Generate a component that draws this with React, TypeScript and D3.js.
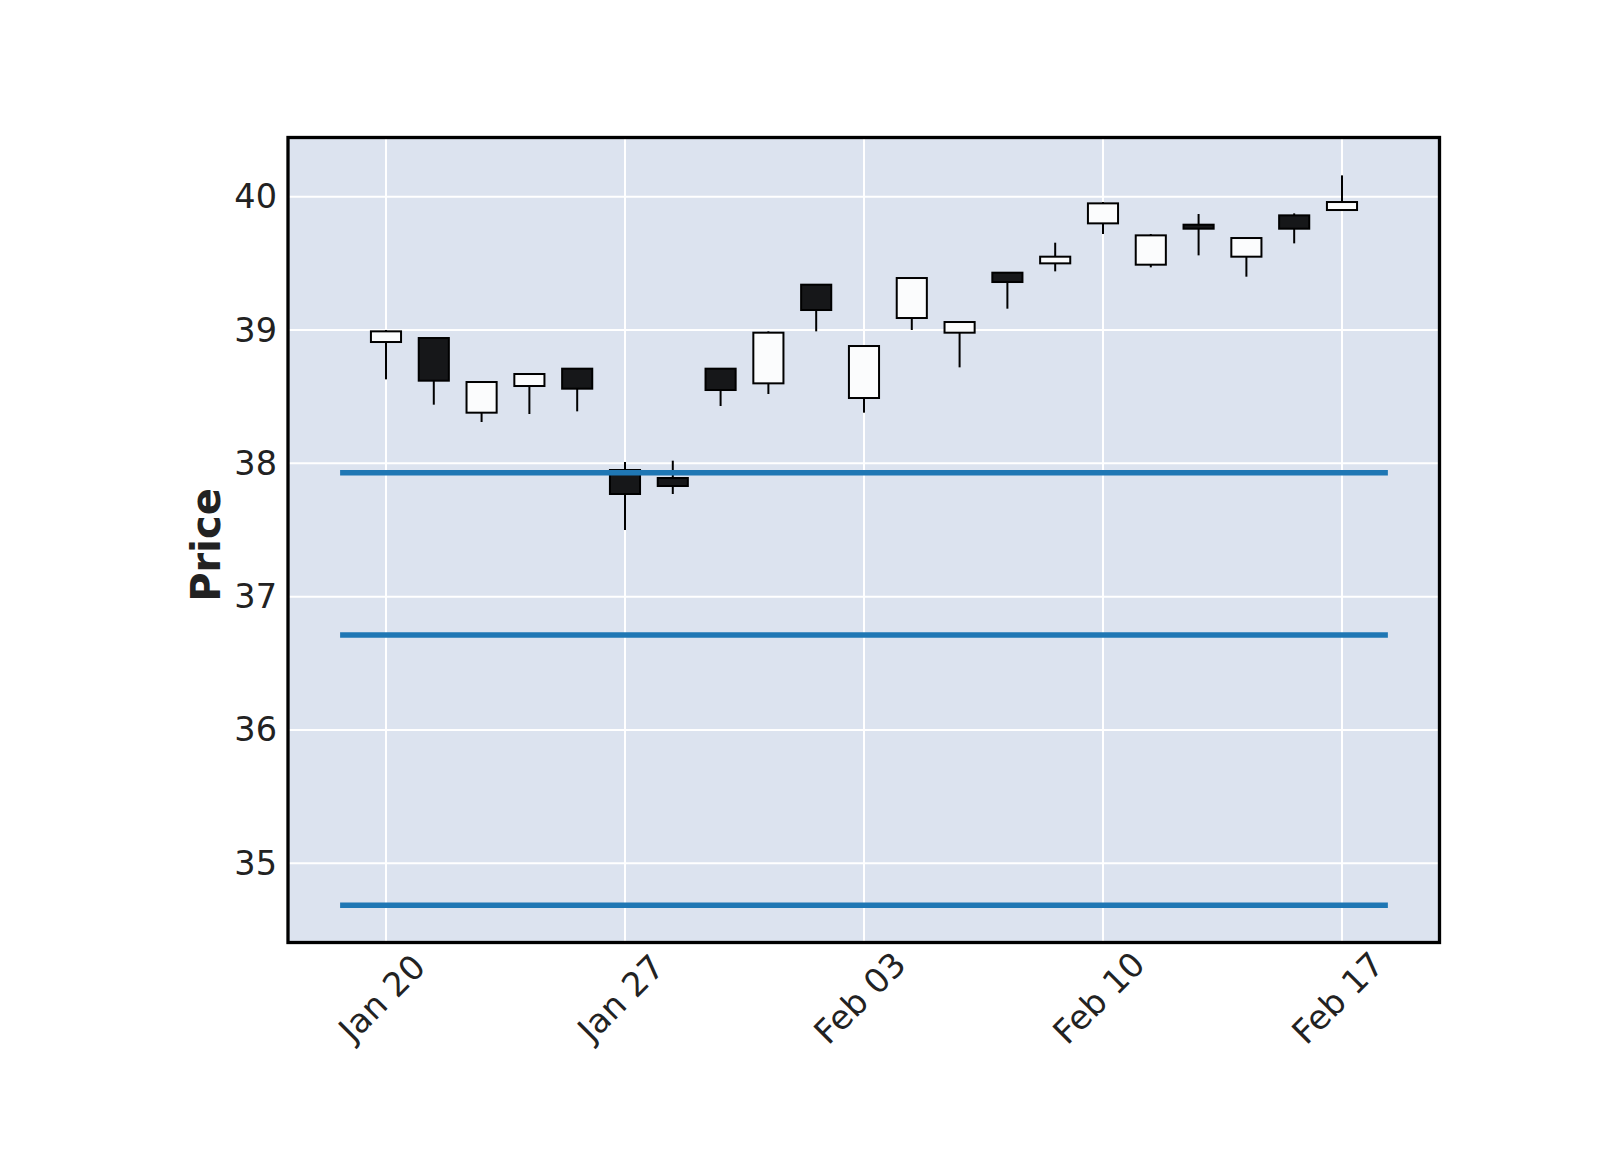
import React from "react";
import * as d3 from "d3";

const dates = ["Jan 20","Jan 21","Jan 22","Jan 23","Jan 24","Jan 27","Jan 28","Jan 29","Jan 30","Jan 31","Feb 03","Feb 04","Feb 05","Feb 06","Feb 07","Feb 10","Feb 11","Feb 12","Feb 13","Feb 14","Feb 17"];
const opens = [38.91,38.94,38.38,38.58,38.71,37.95,37.89,38.71,38.60,39.34,38.49,39.09,38.98,39.43,39.50,39.80,39.49,39.79,39.55,39.86,39.90];
const highs = [39.0,38.94,38.61,38.67,38.71,38.01,38.02,38.71,38.99,39.34,38.88,39.39,39.06,39.43,39.655,39.96,39.72,39.87,39.69,39.875,40.16];
const lows = [38.63,38.44,38.31,38.37,38.39,37.50,37.77,38.43,38.52,38.99,38.38,39.00,38.72,39.16,39.44,39.72,39.47,39.56,39.40,39.65,39.90];
const closes = [38.99,38.62,38.61,38.67,38.56,37.77,37.83,38.55,38.98,39.15,38.88,39.39,39.06,39.36,39.55,39.95,39.71,39.76,39.69,39.76,39.96];
const hlineValues = [37.93, 36.712, 34.685];
const yTicks = [35, 36, 37, 38, 39, 40];
const xTickIdx = [0, 5, 10, 15, 20];
const xTickLabels = ["Jan 20", "Jan 27", "Feb 03", "Feb 10", "Feb 17"];

const L = 288, R = 1439.5, T = 137.5, B = 942.5;

export default function App() {
  const x = d3.scaleLinear().domain([-2.05, 22.04]).range([L, R]);
  const y = d3.scaleLinear().domain([34.406, 40.444]).range([B, T]);
  const bw = x(0.63) - x(0);
  const font = "DejaVu Sans, sans-serif";
  return (
    <svg width={1600} height={1150} style={{ position: "absolute", left: 0, top: 0, background: "#fff" }}>
      <rect x={L} y={T} width={R - L} height={B - T} fill="#DCE3EF" />
      {yTicks.map((t) => (
        <line key={"gy" + t} x1={L} x2={R} y1={y(t)} y2={y(t)} stroke="#fff" strokeWidth={2} />
      ))}
      {xTickIdx.map((t) => (
        <line key={"gx" + t} x1={x(t)} x2={x(t)} y1={T} y2={B} stroke="#fff" strokeWidth={2} />
      ))}
      {dates.map((d, i) => (
        <line key={"w" + i} x1={x(i)} x2={x(i)} y1={y(highs[i])} y2={y(lows[i])} stroke="#000" strokeWidth={2} />
      ))}
      {dates.map((d, i) => {
        const up = closes[i] >= opens[i];
        const top = y(Math.max(opens[i], closes[i]));
        const bot = y(Math.min(opens[i], closes[i]));
        return (
          <rect key={"b" + i} x={x(i) - bw / 2} y={top} width={bw} height={Math.max(bot - top, 0.5)}
            fill={up ? "#FBFCFD" : "#161719"} stroke="#000" strokeWidth={2} />
        );
      })}
      {hlineValues.map((v, i) => (
        <line key={"h" + i} x1={x(-0.96)} x2={x(20.96)} y1={y(v)} y2={y(v)} stroke="#1f77b4" strokeWidth={5.5} />
      ))}
      <rect x={L} y={T} width={R - L} height={B - T} fill="none" stroke="#000" strokeWidth={3.3} />
      {yTicks.map((t) => (
        <text key={"yt" + t} x={L - 11} y={y(t)} textAnchor="end" dominantBaseline="central"
          fontFamily={font} fontSize={33.5} fill="#222">{t}</text>
      ))}
      {xTickIdx.map((t, k) => (
        <text key={"xt" + t} transform={`translate(${x(t) - 4},${998}) rotate(-45)`} textAnchor="middle"
          dominantBaseline="central" fontFamily={font} fontSize={33.5} fill="#222">{xTickLabels[k]}</text>
      ))}
      <text transform={`translate(220,${(T + B) / 2 + 5}) rotate(-90)`} textAnchor="middle" fontFamily={font}
        fontSize={40} fontWeight="bold" fill="#222">Price</text>
    </svg>
  );
}
